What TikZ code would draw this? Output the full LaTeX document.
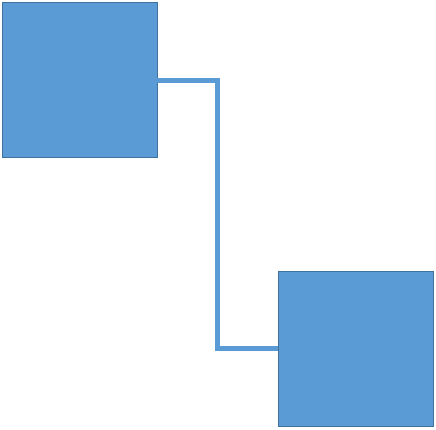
\documentclass[tikz,border=0pt]{standalone}
\usetikzlibrary{calc}
\definecolor{boxfill}{HTML}{5B9BD5}
\definecolor{boxline}{HTML}{41719C}
\tikzset{
  square/.style={draw=boxline, fill=boxfill, line width=1pt,
    minimum size=155pt, inner sep=0pt, outer sep=0pt},
  link/.style={draw=boxfill, line width=5pt}
}
\begin{document}
\begin{tikzpicture}[x=1pt,y=1pt]
      \useasboundingbox (0,0) rectangle (436,429);
      \draw
        (79.5,348.5) node[square] (a){}
        (355.5,80.5) node[square] (b){};
      \coordinate (m) at ($(a.east)!0.5!(b.west)$);
      \begin{scope}[-]
        \draw[link] (a.east) -| (m) |- (b.west);
      \end{scope}
    \end{tikzpicture}
\end{document}
